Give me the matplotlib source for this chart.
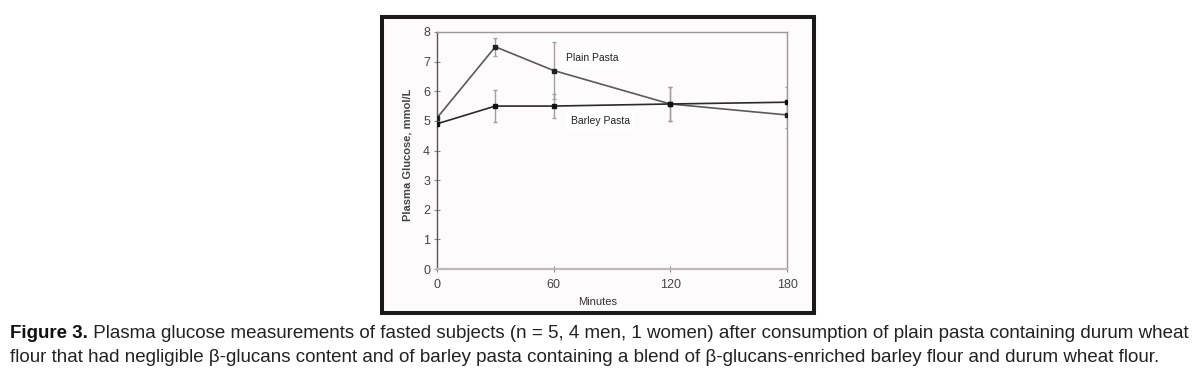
import matplotlib
matplotlib.use("Agg")
import matplotlib.pyplot as plt
from matplotlib import font_manager
from matplotlib.patches import Rectangle

W, H = 1195, 377

minutes = [0, 30, 60, 120, 180]
plain = [5.1, 7.5, 6.7, 5.57, 5.2]
plain_err = [0.0, 0.3, 0.95, 0.58, 0.45]
barley = [4.9, 5.5, 5.5, 5.57, 5.63]
barley_err = [0.0, 0.55, 0.4, 0.58, 0.5]

xticks = [0, 60, 120, 180]
yticks = [0, 1, 2, 3, 4, 5, 6, 7, 8]

caption_bold = "Figure 3."
caption_1 = (" Plasma glucose measurements of fasted subjects (n = 5, 4 men, 1 women) "
             "after consumption of plain pasta containing durum wheat")
caption_2 = ("flour that had negligible \u03b2-glucans content and of barley pasta containing "
             "a blend of \u03b2-glucans-enriched barley flour and durum wheat flour.")

names = {f.name for f in font_manager.fontManager.ttflist}
narrow = "Liberation Sans Narrow" if "Liberation Sans Narrow" in names else "Liberation Sans"
plt.rcParams["font.family"] = ["Liberation Sans", "DejaVu Sans"]

fig = plt.figure(figsize=(W / 100, H / 100), dpi=100)
fig.patch.set_facecolor("white")

# black frame around the chart
fig.patches.append(Rectangle((382 / W, 1 - 313 / H), (814 - 382) / W, (313 - 17) / H,
                             transform=fig.transFigure, facecolor="#fdfbfb",
                             edgecolor="#1a1a1a", lw=2.9, zorder=0))

ax = fig.add_axes([437 / W, 1 - 269 / H, 350 / W, 237 / H])
ax.set_zorder(2)
ax.set_facecolor("#fdfbfb")

ax.errorbar(minutes, plain, yerr=plain_err, color="#5a5a5a", lw=1.2, ecolor="#a0a0a0",
            elinewidth=1.0, capsize=1.5, marker="s", ms=2.2, mfc="#222222", mec="#222222",
            zorder=3)
ax.errorbar(minutes, barley, yerr=barley_err, color="#2a2a2a", lw=1.2, ecolor="#a0a0a0",
            elinewidth=1.0, capsize=1.5, marker="s", ms=3.5, mfc="#111111", mec="#111111",
            zorder=3)

ax.text(80, 7.13, "Plain Pasta", fontsize=7.5, family=narrow, color="#222222",
        ha="center", va="center", bbox=dict(fc="white", ec="none", pad=4), zorder=2)
ax.text(84, 5.0, "Barley Pasta", fontsize=7.5, family=narrow, color="#222222",
        ha="center", va="center", bbox=dict(fc="white", ec="none", pad=4), zorder=2)

ax.set_xlim(0, 180)
ax.set_ylim(0, 8)
ax.set_xticks(xticks)
ax.set_yticks(yticks)
ax.tick_params(direction="inout", length=4, width=0.8, color="#888888",
               labelsize=9, labelcolor="#444444")
ax.tick_params(axis="y", pad=3)
ax.tick_params(axis="x", pad=5)

ax.spines["left"].set_color("#555555")
ax.spines["left"].set_linewidth(1.0)
ax.spines["bottom"].set_color("#bbbbbb")
ax.spines["bottom"].set_linewidth(1.6)
for s in ("top", "right"):
    ax.spines[s].set_color("#999999")
    ax.spines[s].set_linewidth(1.0)

ax.set_xlabel("Minutes", fontsize=8, family=narrow, color="#333333")
ax.xaxis.set_label_coords((598 - 437) / 350, -(302 - 269) / 237)
ax.set_ylabel("Plasma Glucose, mmol/L", fontsize=8, family=narrow, color="#444444",
              fontweight="bold")
ax.yaxis.set_label_coords(-(437 - 408) / 350, (269 - 155) / 237)
ax.yaxis.label.set_va("center")
ax.xaxis.label.set_va("center")

# caption
renderer = fig.canvas.get_renderer()
fs = 11
tb = fig.text(10 / W, 1 - 334 / H, caption_bold, fontsize=fs, family=narrow,
              fontweight="bold", color="#111111", va="center")
t1 = fig.text(0, 1 - 334 / H, caption_1, fontsize=fs, family=narrow,
              color="#222222", va="center")
t2 = fig.text(10 / W, 1 - 357 / H, caption_2, fontsize=fs, family=narrow,
              color="#222222", va="center")
wb = tb.get_window_extent(renderer).width
w1 = t1.get_window_extent(renderer).width
scale = (1190 - 10) / (wb + w1)
for t in (tb, t1, t2):
    t.set_fontsize(fs * scale)
wb = tb.get_window_extent(renderer).width
t1.set_x((10 + wb) / W)

fig.savefig("out.png", dpi=100, facecolor="white")
